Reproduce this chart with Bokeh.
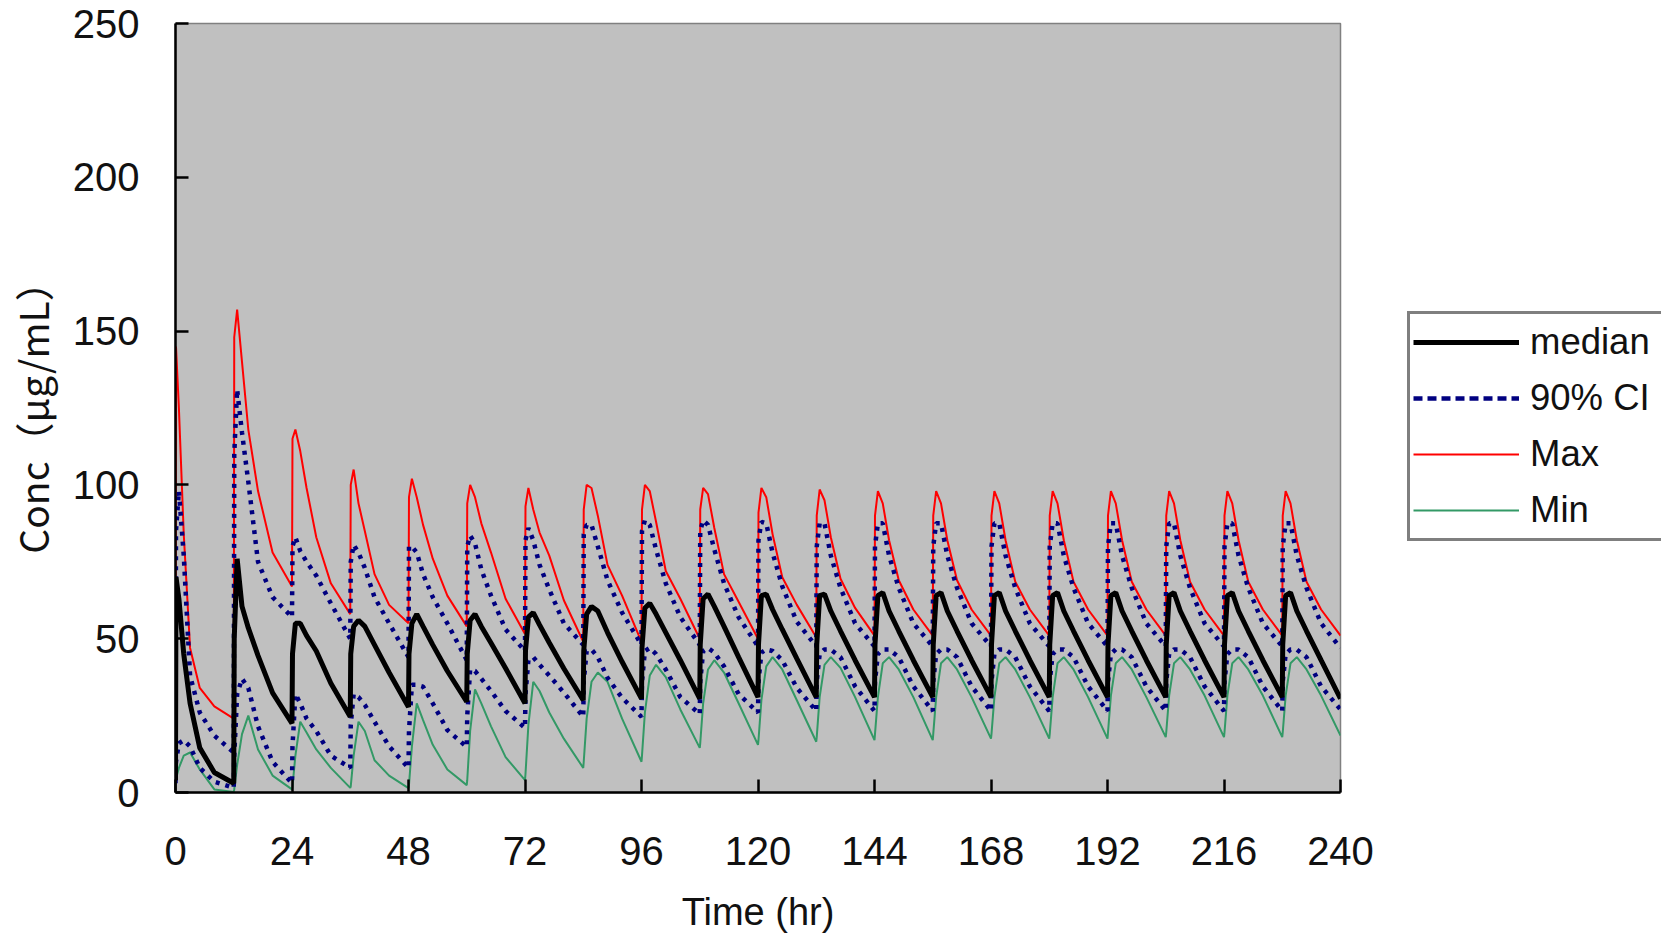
from bokeh.plotting import figure
from bokeh.layouts import row
from bokeh.models import Range1d, Legend, LegendItem, FixedTicker, ColumnDataSource
from bokeh.embed import file_html
from bokeh.resources import INLINE

# ---------------- data ----------------
DOSE_TIMES = [0, 12, 24, 36, 48, 60, 72, 84, 96, 108,
              120, 132, 144, 156, 168, 180, 192, 204, 216, 228]
# sampling offsets (hr) inside each 12-h dosing interval
OFFSETS = [0, 0.1, 0.7, 1.7, 3, 5, 8]
END_TIME = 240

MAX_ROWS = [
    [5, 145, 125, 84, 47, 34, 28],
    [24, 148, 157, 140, 118, 98, 78],
    [67, 115, 118, 111, 99, 83, 68],
    [58, 100, 105, 94, 85, 71, 61],
    [55, 96, 102, 96, 87, 76, 64],
    [54, 94, 100, 96, 87.5, 78, 63],
    [51.5, 93, 99, 92, 84.5, 77, 62.5],
    [49, 92, 100, 99, 90, 74, 64],
    [49, 92, 100, 98, 88, 72, 63],
    [50, 92, 99, 97, 86, 71, 62],
    [50, 91, 99, 96, 84, 70, 61],
    [50.5, 90, 98.5, 95, 83, 69.5, 60],
    [51, 90, 98, 94, 82, 69, 59.5],
    [51, 90, 98, 94, 82, 69, 59.5],
    [51, 90, 98, 94, 82, 68.5, 59.5],
    [51, 90, 98, 94, 82, 68.5, 59.5],
    [51, 90, 98, 94, 82, 68.5, 59.5],
    [51, 90, 98, 94, 82, 68.5, 59.5],
    [51, 90, 98, 94, 82, 68.5, 59.5],
    [51, 90, 98, 94, 82, 68.5, 59.5],
]
MAX_END = 51

MEDIAN_ROWS = [
    [4, 70, 63, 45, 29, 14.5, 6.5],
    [3, 50, 76, 60.5, 53.5, 44.5, 32.4],
    [22.5, 45, 55, 55, 51, 46, 35.5],
    [24.6, 45, 54, 56, 54, 48, 39],
    [27.8, 45, 55, 58, 54, 48, 39.5],
    [29.5, 45, 56, 58, 54, 48.6, 40.4],
    [29, 46, 57, 58.5, 54.5, 48.7, 40.3],
    [30, 46, 58, 60.5, 59, 52, 42.5],
    [30.5, 47, 60, 61.5, 58, 52, 43],
    [30.5, 48, 63, 64.5, 60.5, 54, 44],
    [31, 48, 64, 64.5, 59.5, 53, 43.5],
    [31, 48, 64, 64.5, 59, 52.5, 43],
    [31, 48, 64, 65, 59, 52.5, 43],
    [31, 48, 64, 65, 59, 52.5, 43],
    [31, 48, 64, 65, 59, 52.5, 43],
    [31, 48, 64, 65, 59, 52.5, 43],
    [31, 48, 64, 65, 59, 52.5, 43],
    [31, 48, 64, 65, 59, 52.5, 43],
    [31, 48, 64, 65, 59, 52.5, 43],
    [31, 48, 64, 65, 59, 52.5, 43],
]
MEDIAN_END = 30.5

MIN_ROWS = [
    [4, 4.5, 8, 12, 13, 7.5, 1],
    [0.2, 1, 9, 19, 25, 14, 5.5],
    [1, 2, 12, 23, 19.5, 14, 8],
    [1.5, 2, 12, 23, 20, 10.5, 5.5],
    [1.4, 2.5, 15, 29, 23.5, 15.5, 7.5],
    [2.4, 4, 20, 33.5, 29, 21.5, 11.5],
    [4, 6, 22, 36, 33, 26, 17.5],
    [8, 10, 24, 36, 39, 36, 24],
    [10, 12, 26, 38, 41.5, 37.5, 27],
    [14.5, 16, 29, 40, 43, 39, 29],
    [15.5, 17, 30, 41, 44, 40, 30],
    [16.5, 18, 31, 41.5, 44, 40.5, 31],
    [17, 19, 31, 42, 44, 40, 31],
    [17, 19, 31, 42, 44, 40, 31],
    [17.5, 19, 31, 42, 44, 40, 31],
    [17.5, 19, 31, 42, 44, 40, 31],
    [17.5, 19.5, 31.5, 42, 44, 40, 31],
    [18, 19.5, 31.5, 42, 44, 40, 31.5],
    [18, 19.5, 31.5, 42, 44, 40, 31.5],
    [18, 19.5, 31.5, 42, 44, 40, 31.5],
]
MIN_END = 18.5

CI_UPPER_ROWS = [
    [4, 85, 98, 77, 38, 26, 18.5],
    [13, 110, 131, 117, 101, 75, 63.5],
    [57, 80, 83, 78.5, 75, 70.5, 61.5],
    [50, 75, 80.5, 78, 73, 63.5, 55],
    [44, 80, 80, 78, 71, 63.5, 55],
    [43, 80, 83.5, 81, 72.5, 64, 53],
    [46, 82, 86, 82, 74, 66, 55],
    [48, 84, 87, 87, 80, 69, 58.5],
    [48, 85, 88.5, 87, 79, 68, 57],
    [48, 85, 88.5, 87, 79, 68, 57],
    [47.5, 82, 88, 87.5, 78, 67, 55.5],
    [47.5, 80, 87.5, 87.5, 77, 66.5, 55],
    [47.5, 80, 87.5, 87.5, 77, 66.5, 55],
    [47.5, 80, 87.5, 87.5, 77, 66.5, 55],
    [47.5, 80, 87.5, 87.5, 77, 66.5, 55],
    [47.5, 80, 87.5, 87.5, 77, 66.5, 55],
    [47.5, 80, 87.5, 87.5, 77, 66.5, 55],
    [47.5, 80, 87.5, 87.5, 77, 66.5, 55],
    [47.5, 80, 87.5, 87.5, 77, 66.5, 55],
    [47.5, 80, 87.5, 87.5, 77, 66.5, 55],
]
CI_UPPER_END = 47

CI_LOWER_ROWS = [
    [3, 10, 16, 17, 15, 8, 3.5],
    [1.5, 12, 32, 37, 34, 21.5, 10],
    [3, 15, 32, 29, 24, 20, 12],
    [8, 22, 32, 31, 28.5, 23, 15],
    [8, 20, 35, 35, 34.4, 29, 20.3],
    [14.8, 25, 40, 39.5, 37, 33, 26.5],
    [21, 32, 43, 44, 41.5, 38, 32.5],
    [24.6, 36, 46, 46.5, 44, 37.3, 30.8],
    [24.6, 36, 46, 47, 45, 40, 31],
    [25.5, 36, 46, 47, 45.5, 41, 32],
    [26, 36, 45.5, 46.5, 46, 43, 34],
    [26.5, 36, 45, 46.5, 46.5, 44, 34.5],
    [26.5, 36, 45, 46.5, 46.5, 44, 34.5],
    [26.5, 36, 45, 46.5, 46.5, 44, 34.5],
    [26.5, 36, 45, 46.5, 46.5, 44, 34.5],
    [26.5, 36, 45, 46.5, 46.5, 44, 34.5],
    [26.5, 36, 45, 46.5, 46.5, 44, 34.5],
    [26.5, 36, 45, 46.5, 46.5, 44, 34.5],
    [26.5, 36, 45, 46.5, 46.5, 44, 34.5],
    [26.5, 36, 45, 46.5, 46.5, 44, 34.5],
]
CI_LOWER_END = 27

X_TICKS = [0, 24, 48, 72, 96, 120, 144, 168, 192, 216, 240]
Y_TICKS = [0, 50, 100, 150, 200, 250]

X_LABEL = "Time (hr)"
Y_LABEL = "Conc（μg/mL）"
LEGEND_LABELS = ["median", "90% CI", "Max", "Min"]

# ---------------- build ----------------
TIMES = [d + o for d in DOSE_TIMES for o in OFFSETS] + [END_TIME]


def series(rows, end):
    return [v for row_ in rows for v in row_] + [end]


src = ColumnDataSource(data=dict(
    t=TIMES,
    vmax=series(MAX_ROWS, MAX_END),
    vmin=series(MIN_ROWS, MIN_END),
    med=series(MEDIAN_ROWS, MEDIAN_END),
    up=series(CI_UPPER_ROWS, CI_UPPER_END),
    lo=series(CI_LOWER_ROWS, CI_LOWER_END),
))

FONT = "Liberation Sans"
TXT = "#111111"

STYLE_MED = dict(line_color="black", line_width=5)
STYLE_CI = dict(line_color="#000080", line_width=4.5, line_dash="4 6")
STYLE_CI_KEY = dict(line_color="#000080", line_width=4.5, line_dash="9 5")
STYLE_MAX = dict(line_color="#FF0000", line_width=2)
STYLE_MIN = dict(line_color="#339966", line_width=2)

# main chart (frame from x=175 to x=1340 of the page)
p = figure(width=1380, height=937,
           min_border_left=175, min_border_right=40,
           min_border_top=23, min_border_bottom=145,
           x_range=Range1d(0, 240), y_range=Range1d(0, 250),
           output_backend="svg", toolbar_location=None)

p.background_fill_color = "#C0C0C0"
p.border_fill_color = "white"
p.outline_line_color = "#808080"
p.outline_line_width = 1.5
p.grid.visible = False

for ax in (p.xaxis[0], p.yaxis[0]):
    ax.axis_line_color = "black"
    ax.axis_line_width = 2.5
    ax.major_tick_line_color = "black"
    ax.major_tick_line_width = 2.5
    ax.major_tick_in = 13
    ax.major_tick_out = 0
    ax.minor_tick_line_color = None
    ax.major_label_text_font = FONT
    ax.major_label_text_font_size = "40px"
    ax.major_label_text_color = TXT
    ax.axis_label_text_font_style = "normal"
    ax.axis_label_text_color = TXT

p.xaxis.ticker = FixedTicker(ticks=X_TICKS)
p.yaxis.ticker = FixedTicker(ticks=Y_TICKS)
p.xaxis.major_label_standoff = 44
p.yaxis.major_label_standoff = 36
p.xaxis.axis_label = X_LABEL
p.xaxis.axis_label_text_font = FONT
p.xaxis.axis_label_text_font_size = "38px"
p.xaxis.axis_label_standoff = 23
p.yaxis.axis_label = Y_LABEL
p.yaxis.axis_label_text_font = "Noto Sans CJK JP"
p.yaxis.axis_label_text_font_size = "39px"
p.yaxis.axis_label_standoff = 10

p.line("t", "vmax", source=src, **STYLE_MAX)
p.line("t", "vmin", source=src, **STYLE_MIN)
p.line("t", "up", source=src, **STYLE_CI)
p.line("t", "lo", source=src, **STYLE_CI)
p.line("t", "med", source=src, **STYLE_MED)

# legend panel to the right of the chart (box is cut by the page edge).
# Its ranges lie far outside the data, so only the legend shows here.
lp = figure(width=281, height=937, min_border=0,
            x_range=Range1d(1000, 1001), y_range=Range1d(1000, 1001),
            x_axis_location=None, y_axis_location=None,
            output_backend="svg", toolbar_location=None)
lp.grid.visible = False
lp.outline_line_color = None
lp.background_fill_color = "white"
lp.border_fill_color = "white"

k_med = lp.line("t", "med", source=src, **STYLE_MED)
k_ci = lp.line("t", "up", source=src, **STYLE_CI_KEY)
k_max = lp.line("t", "vmax", source=src, **STYLE_MAX)
k_min = lp.line("t", "vmin", source=src, **STYLE_MIN)

legend = Legend(items=[
    LegendItem(label=LEGEND_LABELS[0], renderers=[k_med]),
    LegendItem(label=LEGEND_LABELS[1], renderers=[k_ci]),
    LegendItem(label=LEGEND_LABELS[2], renderers=[k_max]),
    LegendItem(label=LEGEND_LABELS[3], renderers=[k_min]),
], location=(27, 251))
legend.border_line_color = "black"
legend.border_line_width = 3
legend.background_fill_color = "white"
legend.background_fill_alpha = 1.0
legend.label_text_font = FONT
legend.label_text_font_size = "36.5px"
legend.label_text_color = TXT
legend.glyph_width = 106
legend.glyph_height = 50
legend.label_height = 50
legend.label_width = 140
legend.label_standoff = 11
legend.spacing = 6
legend.padding = 3
legend.margin = 0
lp.add_layout(legend, "center")

layout = row(p, lp, spacing=0)
open("out.html", "w").write(file_html(layout, INLINE))
